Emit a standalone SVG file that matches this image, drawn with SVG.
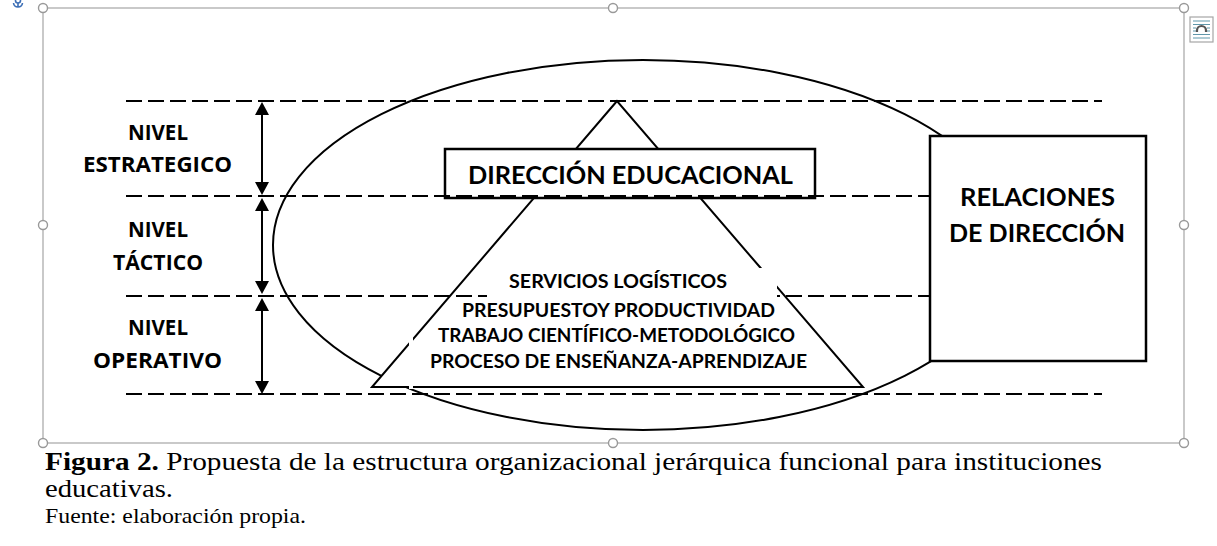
<svg xmlns="http://www.w3.org/2000/svg" width="1217" height="546" viewBox="0 0 1217 546">
<style>
.ln{fill:none;stroke:#000;stroke-width:2}
.dash{fill:none;stroke:#000;stroke-width:2;stroke-dasharray:16 6}
.box{fill:#fff;stroke:#000;stroke-width:2.5}
.frame{fill:none;stroke:#a6a6a6;stroke-width:1.2}
.hdl{fill:#fff;stroke:#999;stroke-width:1.4}
.cal{font-family:Lato,"Open Sans","Liberation Sans",sans-serif;font-weight:bold;fill:#000;text-anchor:middle}
.seg{font-family:"Open Sans","DejaVu Sans",sans-serif;font-weight:bold;fill:#000;text-anchor:middle}
.cap{font-family:"Liberation Serif","Times New Roman",serif;fill:#000}
</style>
<defs>
<marker id="ah" viewBox="0 0 13 14" refX="11" refY="7" markerWidth="13" markerHeight="14" markerUnits="userSpaceOnUse" orient="auto-start-reverse">
<path d="M0,0 L13,7 L0,14 z" fill="#000"/>
</marker>
</defs>
<rect width="1217" height="546" fill="#fff"/>

<g id="frame">
<rect class="frame" x="43" y="8" width="1141" height="435"/>
<circle class="hdl" cx="43" cy="8" r="4.5"/>
<circle class="hdl" cx="613" cy="8" r="4.5"/>
<circle class="hdl" cx="1184" cy="8" r="4.5"/>
<circle class="hdl" cx="43" cy="225" r="4.5"/>
<circle class="hdl" cx="1184" cy="225" r="4.5"/>
<circle class="hdl" cx="43" cy="443" r="4.5"/>
<circle class="hdl" cx="613" cy="443" r="4.5"/>
<circle class="hdl" cx="1184" cy="443" r="4.5"/>
</g>

<g id="anchor-icon" fill="none" stroke="#3d6fb6" stroke-width="1.6">
<circle cx="18" cy="0.5" r="2.5"/>
<path d="M18,3 V7 M13.5,3 Q14,7 18,7 Q22,7 22.5,3"/>
</g>

<g id="layout-icon">
<rect x="1190" y="17" width="23" height="25" fill="#fff" stroke="#a6a6a6" stroke-width="1.2"/>
<g stroke="#5f97ab" stroke-width="1.2">
<path d="M1193,21 H1210 M1193,24.5 H1210 M1193,28 H1196 M1207,28 H1210 M1193,31 H1196 M1207,31 H1210 M1193,34.5 H1210 M1193,38 H1210"/>
</g>
<path d="M1197,32 V30.5 A4.5,4.5 0 0 1 1206,30.5 V32" fill="none" stroke="#555" stroke-width="2.2"/>
</g>

<g id="ellipse">
<ellipse class="ln" cx="643" cy="245" rx="370" ry="185"/>
</g>

<g id="piramide">
<polygon points="617,101 372,387 863,387" fill="#fff" stroke="#000" stroke-width="2" stroke-linejoin="miter"/>
<rect x="409" y="335" width="4" height="54" fill="#fff"/>
</g>

<g id="direccion-educacional">
<rect class="box" x="445" y="149" width="370" height="49"/>
<text class="cal" x="630.5" y="184" font-size="25.5" textLength="325" lengthAdjust="spacingAndGlyphs">DIRECCIÓN EDUCACIONAL</text>
</g>

<g id="connectors">
<line class="dash" x1="126" y1="101" x2="1102" y2="101"/>
<line class="dash" x1="126" y1="196" x2="1102" y2="196"/>
<line class="dash" x1="126" y1="296" x2="1102" y2="296"/>
<line class="dash" x1="126" y1="394" x2="1102" y2="394"/>
<line class="ln" x1="262" y1="104" x2="262" y2="193" marker-start="url(#ah)" marker-end="url(#ah)"/>
<line class="ln" x1="262" y1="200" x2="262" y2="292" marker-start="url(#ah)" marker-end="url(#ah)"/>
<line class="ln" x1="262" y1="300" x2="262" y2="392" marker-start="url(#ah)" marker-end="url(#ah)"/>
</g>

<g id="procesos">
<rect x="487" y="268" width="290" height="38" fill="#fff"/>
<text class="cal" x="618" y="288" font-size="18" textLength="218" lengthAdjust="spacingAndGlyphs">SERVICIOS LOGÍSTICOS</text>
<text class="cal" x="618.5" y="317" font-size="18" textLength="313" lengthAdjust="spacingAndGlyphs">PRESUPUESTOY PRODUCTIVIDAD</text>
<text class="cal" x="616.5" y="342" font-size="18" textLength="357" lengthAdjust="spacingAndGlyphs">TRABAJO CIENTÍFICO-METODOLÓGICO</text>
<text class="cal" x="618.5" y="368" font-size="18" textLength="377" lengthAdjust="spacingAndGlyphs">PROCESO DE ENSEÑANZA-APRENDIZAJE</text>
</g>

<g id="relaciones-direccion">
<rect class="box" x="930" y="136" width="216" height="225"/>
<text class="cal" x="1037.5" y="206" font-size="25" textLength="155" lengthAdjust="spacingAndGlyphs">RELACIONES</text>
<text class="cal" x="1037" y="242" font-size="25" textLength="176" lengthAdjust="spacingAndGlyphs">DE DIRECCIÓN</text>
</g>

<g id="nivel-estrategico">
<text class="seg" x="158" y="140" font-size="21" textLength="60" lengthAdjust="spacingAndGlyphs">NIVEL</text>
<text class="seg" x="157.5" y="172" font-size="21" textLength="149" lengthAdjust="spacingAndGlyphs">ESTRATEGICO</text>
</g>
<g id="nivel-tactico">
<text class="seg" x="158" y="237" font-size="21" textLength="60" lengthAdjust="spacingAndGlyphs">NIVEL</text>
<text class="seg" x="158" y="270" font-size="21" textLength="90" lengthAdjust="spacingAndGlyphs">TÁCTICO</text>
</g>
<g id="nivel-operativo">
<text class="seg" x="158" y="335" font-size="21" textLength="60" lengthAdjust="spacingAndGlyphs">NIVEL</text>
<text class="seg" x="157.5" y="368" font-size="21" textLength="129" lengthAdjust="spacingAndGlyphs">OPERATIVO</text>
</g>

<g id="caption" class="cap">
<text x="45" y="470" font-size="26" textLength="1057" lengthAdjust="spacingAndGlyphs"><tspan font-weight="bold">Figura 2.</tspan> Propuesta de la estructura organizacional jerárquica funcional para instituciones</text>
<text x="45" y="497" font-size="26" textLength="128" lengthAdjust="spacingAndGlyphs">educativas.</text>
<text x="45" y="523" font-size="21" textLength="261" lengthAdjust="spacingAndGlyphs">Fuente: elaboración propia.</text>
</g>
</svg>
